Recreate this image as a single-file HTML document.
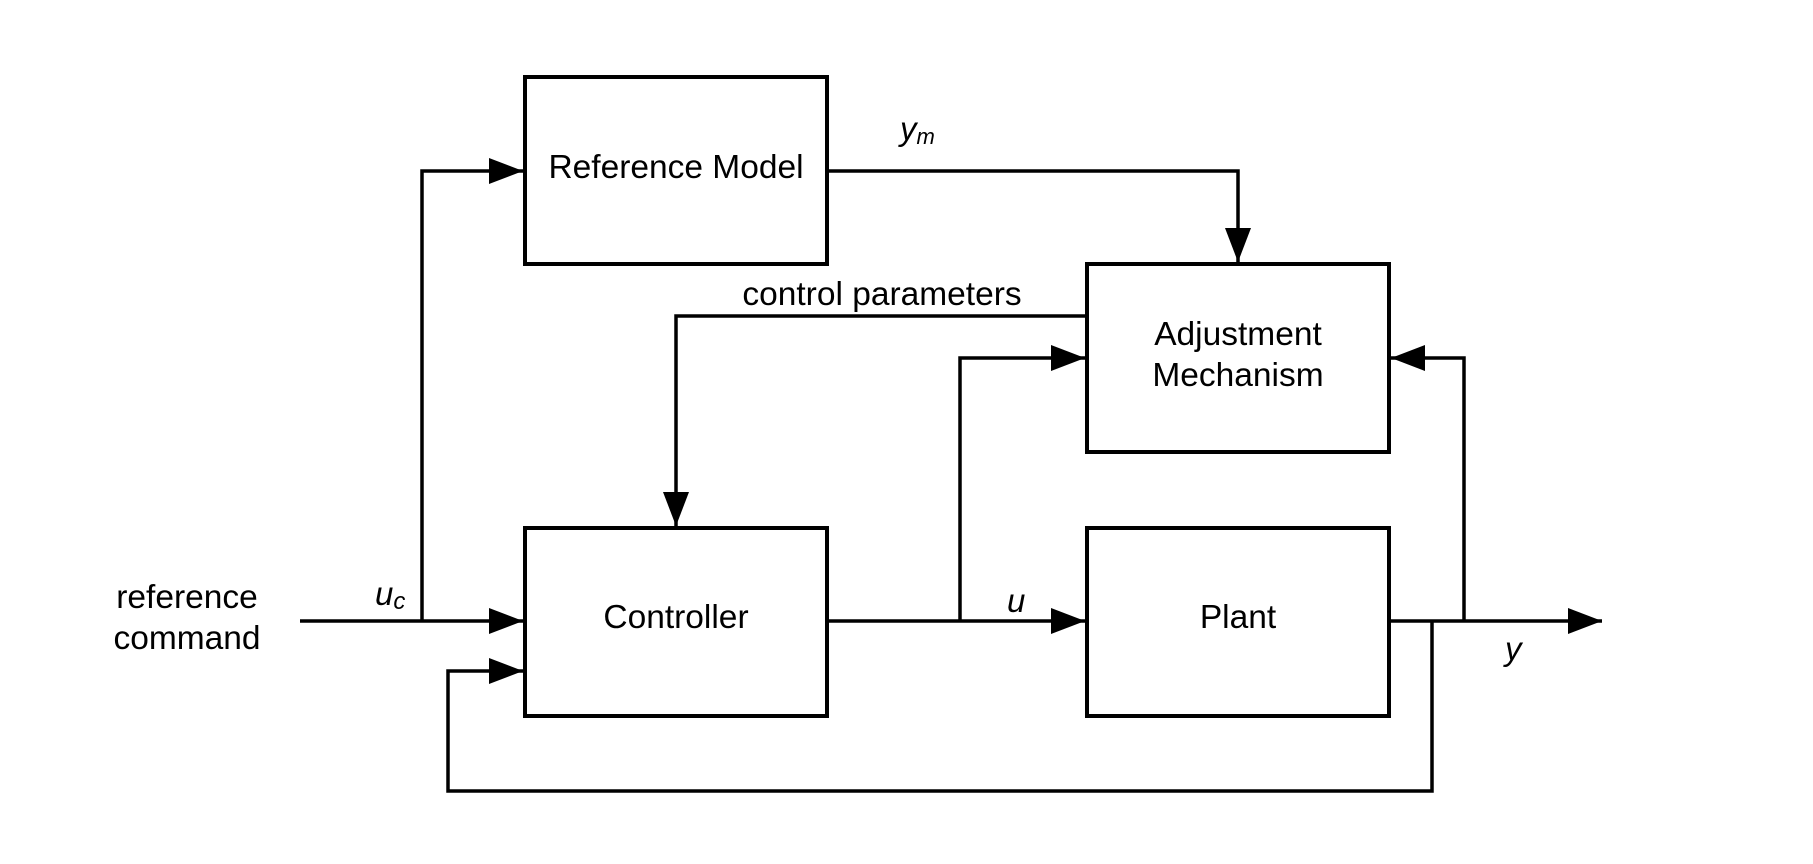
<!DOCTYPE html>
<html><head><style>
html,body{margin:0;padding:0;background:#fff;}
svg{display:block;}
text{font-family:"Liberation Sans",sans-serif;fill:#000;}
</style></head><body>
<svg width="1813" height="864" viewBox="0 0 1813 864" xmlns="http://www.w3.org/2000/svg">
<defs>
<marker id="a" markerWidth="34" markerHeight="26" refX="34" refY="13" orient="auto" markerUnits="userSpaceOnUse">
<path d="M0,0 L34,13 L0,26 Z" fill="#000"/>
</marker>
</defs>
<g fill="none" stroke="#000" stroke-width="4">
<rect x="525" y="77" width="302" height="187"/>
<rect x="1087" y="264" width="302" height="188"/>
<rect x="525" y="528" width="302" height="188"/>
<rect x="1087" y="528" width="302" height="188"/>
</g>
<g fill="none" stroke="#000" stroke-width="3.5">
<path d="M300,621 L523,621" marker-end="url(#a)"/>
<path d="M422,621 L422,171 L523,171" marker-end="url(#a)"/>
<path d="M827,171 L1238,171 L1238,262" marker-end="url(#a)"/>
<path d="M1087,316 L676,316 L676,526" marker-end="url(#a)"/>
<path d="M827,621 L1085,621" marker-end="url(#a)"/>
<path d="M960,621 L960,358 L1085,358" marker-end="url(#a)"/>
<path d="M1389,621 L1602,621" marker-end="url(#a)"/>
<path d="M1464,621 L1464,358 L1391,358" marker-end="url(#a)"/>
<path d="M1432,621 L1432,791 L448,791 L448,671 L523,671" marker-end="url(#a)"/>
</g>
<g font-size="33.5" text-anchor="middle">
<text x="676" y="178">Reference Model</text>
<text x="1238" y="345">Adjustment</text>
<text x="1238" y="386">Mechanism</text>
<text x="676" y="628">Controller</text>
<text x="1238" y="628">Plant</text>
<text x="187" y="608">reference</text>
<text x="187" y="649">command</text>
<text x="882" y="305">control parameters</text>
</g>
<g font-size="33" font-style="italic">
<text x="375" y="605">u<tspan font-size="24" dy="4">c</tspan></text>
<text x="1007" y="612">u</text>
<text x="1505" y="660">y</text>
<text x="900" y="140" font-family="Liberation Serif">y<tspan font-size="22" dy="4">m</tspan></text>
</g>
</svg>
</body></html>
